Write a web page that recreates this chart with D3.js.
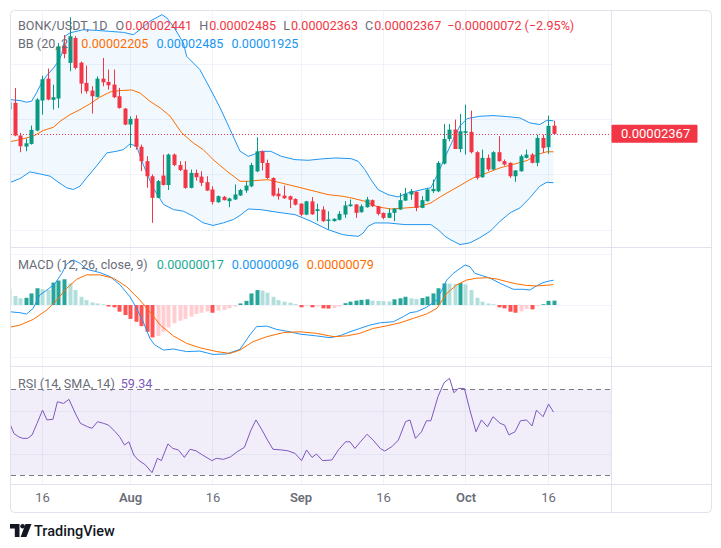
<!DOCTYPE html>
<html><head><meta charset="utf-8">
<script src="https://cdn.jsdelivr.net/npm/d3@7"></script>
<style>
html,body{margin:0;padding:0;background:#fff;}
svg{display:block;font-family:Roboto,"Noto Sans",sans-serif;}
</style></head><body>
<svg id="c" width="721" height="548"></svg>
<script>
// ---------- DATA (prices in units of 1e-8 USDT, day index 0 = Jul 10) ----------
const startDate = Date.UTC(2024, 6, 10);
const openP  = [2590,2647,2352,2252,2276,2397,2668,2866,2674,2686,3167,3008,3234,3011,2827,2758,2701,2866,2836,2812,2707,2595,2451,2505,2250,2120,1984,1789,1990,1905,2180,2085,2044,1879,2014,1981,1930,1864,1749,1798,1759,1774,1810,1855,1893,2028,2209,2104,1968,1827,1809,1803,1778,1736,1637,1757,1670,1683,1580,1578,1590,1638,1713,1729,1659,1704,1768,1713,1653,1608,1653,1683,1764,1819,1843,1698,1759,1849,1848,2098,2321,2406,2230,2376,2385,2201,1975,2150,2045,2201,2120,2105,1984,2029,2150,2180,2105,2330,2246,2441];
const highP  = [2660,2782,2376,2324,2442,2690,2893,2957,2812,3188,3260,3420,3250,3020,2984,2797,2887,3053,2948,2948,2782,2601,2526,2535,2270,2165,2000,1950,2180,2189,2189,2120,2120,2044,2044,2029,1984,1894,1810,1805,1790,1909,1870,1939,2105,2336,2216,2134,1975,1878,1899,1810,1785,1740,1762,1796,1736,1713,1667,1605,1668,1759,1774,1732,1729,1797,1774,1716,1656,1692,1695,1833,1879,1869,1846,1804,1879,1954,2120,2456,2456,2496,2547,2631,2577,2210,2225,2180,2210,2346,2135,2110,2040,2180,2225,2192,2360,2360,2532,2485];
const lowP   = [2580,2346,2201,2210,2270,2390,2541,2670,2586,2601,3050,2933,2950,2731,2731,2550,2695,2797,2767,2690,2595,2445,2240,2225,2030,1880,1563,1785,1900,1860,2075,2030,1870,1875,1945,1894,1850,1728,1745,1765,1704,1770,1805,1834,1885,2020,2037,1960,1800,1772,1780,1697,1720,1622,1632,1635,1577,1572,1503,1575,1585,1608,1710,1608,1655,1700,1705,1630,1595,1605,1578,1680,1760,1771,1668,1695,1755,1833,1840,2090,2300,2280,2200,2180,2190,1954,1970,2030,2040,2115,2080,1969,1933,2025,2145,2100,2075,2195,2186,2363];
const closeP = [2650,2352,2255,2282,2403,2677,2860,2677,2698,3158,3089,3249,2963,2821,2752,2707,2866,2833,2806,2698,2601,2451,2502,2250,2120,1984,1789,1940,1905,2180,2085,2040,1879,2014,1975,1924,1855,1752,1804,1768,1783,1819,1860,1900,2085,2209,2104,1968,1809,1803,1785,1772,1727,1637,1757,1640,1686,1578,1593,1599,1644,1720,1729,1653,1713,1774,1713,1644,1608,1653,1692,1768,1825,1849,1698,1768,1864,1870,2105,2321,2405,2230,2391,2391,2201,1969,2150,2045,2201,2120,2090,1984,2036,2165,2180,2105,2330,2240,2439,2367];

// Bollinger Bands (20, 2): [day, value]
const bbUpper = [[0,2677],[2,2668],[3.2,2653],[4.1,2662],[5,2737],[5.9,2827],[6.9,2896],[8.1,2963],[9,3023],[9.6,3090],[10.2,3250],[11.1,3280],[13.5,3308],[15.9,3302],[18.4,3293],[20.8,3284],[22.6,3263],[23.8,3308],[25.6,3384],[27.8,3444],[28.7,3414],[29.9,3338],[31.7,3188],[32.3,3068],[34.7,2948],[36.5,2782],[38.4,2601],[40.2,2406],[42,2210],[43.5,2164],[44.4,2179],[45.8,2209],[47.6,2209],[49.5,2164],[52,2134],[54.4,2128],[56.7,2140],[59.3,2149],[62.2,2143],[63.5,2119],[64.7,2044],[65.8,1954],[67.1,1863],[68.9,1818],[70.7,1797],[72.5,1833],[73.8,1848],[75.6,1869],[76.7,1880],[78,2010],[79.5,2180],[80.7,2310],[82,2440],[83.3,2505],[85.6,2526],[88,2532],[90.5,2523],[92.9,2511],[94.7,2466],[96.5,2451],[97.8,2490],[99,2485]];
const bbBasis = [[0,2294],[2,2315],[4.4,2346],[6.2,2397],[8.1,2427],[9.3,2481],[11.1,2541],[12.9,2586],[14.7,2638],[16.5,2698],[18.4,2746],[20.2,2758],[22.3,2764],[23.8,2737],[25.6,2662],[27.5,2601],[29.3,2526],[31.4,2376],[33.5,2285],[35.3,2225],[37.1,2135],[39.6,2030],[42,1939],[43.5,1938],[45.3,1947],[47.1,1953],[49.5,1923],[52,1893],[54.9,1857],[58,1818],[60.7,1803],[62.2,1788],[64.7,1758],[67.1,1706],[69.5,1688],[72,1697],[74.4,1706],[76.7,1743],[78.5,1800],[80.7,1863],[82,1900],[84.4,1969],[86.9,2014],[89.3,2060],[91.6,2090],[94.2,2126],[96,2180],[97.8,2205],[99,2205]];
const bbLower = [[0,1924],[2,1963],[3.8,2023],[5.6,2005],[7.5,1984],[8.7,1939],[10.5,1879],[11.7,1864],[12.9,1894],[14.1,1969],[15.9,2075],[17.8,2195],[19.6,2210],[20.8,2225],[22,2276],[23.2,2255],[24.4,2090],[26.2,1879],[28.1,1729],[29.9,1683],[31.7,1668],[33.5,1623],[35.3,1563],[37.1,1539],[39,1563],[40.8,1593],[42,1630],[43.5,1688],[45.8,1682],[48.9,1658],[52,1637],[54.9,1577],[58,1501],[60.7,1456],[61.6,1450],[63.5,1441],[64.4,1471],[65.3,1532],[66.5,1562],[68.9,1562],[72,1547],[74.9,1547],[76.7,1547],[78,1502],[79.3,1441],[80.2,1412],[82,1367],[83.8,1382],[85.6,1428],[87.5,1488],[89.3,1578],[91.1,1653],[92.9,1698],[94.7,1789],[96.5,1894],[97.8,1930],[99,1925]];

// MACD (12, 26, close, 9), units of 1e-8
const macdHist = [61,35,26,28,45,65,61,58,87,95,100,84,58,32,19,10,6,3,-6,-9,-26,-39,-54,-65,-82,-104,-126,-120,-104,-87,-71,-61,-54,-45,-35,-30,-25,-30,-22,-19,-13,-6,6,16,45,58,56,48,32,19,13,9,4,-9,-4,-9,-6,-13,-14,-12,-6,7,13,17,20,22,17,16,15,14,22,26,32,26,23,27,33,45,65,84,83,82,85,80,58,28,13,6,3,-9,-13,-26,-30,-25,-15,-17,-4,3,16,17];
const macdLine = [[0,-26],[2,-30],[3.2,-35],[4.4,-13],[5.6,39],[6.9,58],[8.4,84],[9.6,123],[10.5,159],[11.7,175],[12.9,162],[14.1,139],[16.5,126],[18.4,110],[20.2,78],[22,32],[23.2,-13],[24.4,-65],[25.6,-129],[26.5,-155],[28.1,-175],[29.9,-171],[32.3,-181],[34.7,-179],[37.1,-192],[39.6,-190],[42,-172],[43.8,-116],[45,-84],[46.9,-82],[48.7,-95],[51.1,-104],[52.9,-113],[55.9,-120],[58.4,-127],[60.2,-119],[62,-104],[63.8,-91],[65.6,-78],[67.5,-69],[69.9,-65],[71.7,-45],[72.9,-30],[74.1,-26],[75.9,-9],[77.8,19],[79.6,97],[80.8,123],[82,142],[82.9,155],[83.8,149],[84.7,123],[86.2,113],[87.5,104],[89.3,84],[91.7,61],[93.5,61],[94.7,58],[95.9,74],[97.1,87],[98.4,94],[99,96]];
const signalLine = [[0,-87],[2,-78],[4.4,-56],[6.9,-19],[8.7,19],[10.5,65],[12.3,100],[14.1,117],[16.5,117],[19,104],[21.4,71],[23.8,19],[25.6,-26],[27.5,-78],[29.9,-120],[32.3,-149],[34.7,-166],[37.8,-181],[40.2,-188],[42,-175],[44.4,-142],[46.9,-123],[49.9,-107],[52.9,-104],[55.9,-110],[59,-123],[61.4,-120],[63.8,-110],[66.2,-91],[68.7,-81],[71.1,-69],[73.5,-52],[75.9,-35],[77.8,-13],[79.6,45],[81.4,78],[83.2,97],[85,104],[86.9,106],[88.7,101],[90.5,91],[92.3,82],[94.1,76],[95.9,74],[97.8,77],[99,79]];

// RSI (14)
const rsiLine = [[0,54.9],[0.9,49.4],[1.7,47.9],[2.5,47.1],[3.4,47.1],[4.2,48.7],[5.1,54.1],[6.1,60.3],[6.9,55.7],[8,56],[8.8,64.2],[9.9,63.4],[10.9,65.3],[12.2,58],[13,54.1],[14.3,52.5],[15.1,51.8],[16.1,54.9],[17.2,54.1],[18.1,53.3],[19.3,50.2],[20.1,47.9],[21,44],[21.8,45.5],[22.7,39.3],[23.5,37],[24.8,34.7],[26,31.1],[27,37.8],[27.7,36.7],[28.9,44.5],[29.8,42.4],[30.8,41.7],[31.9,38.2],[32.9,42],[34,41.3],[35.2,39.3],[36.9,36.7],[37.7,37.8],[39,37.3],[40.3,38.5],[41.5,40.9],[42.8,42.9],[44,51],[44.9,55.7],[46,51],[47,46.3],[48,42],[49.5,41.7],[50.7,41.3],[52,40.1],[53.2,36.7],[54.1,41.7],[55.1,38.2],[55.9,39.8],[57,36.7],[58.7,37],[59.9,41.7],[61.2,45.5],[62,45.5],[62.9,42.4],[63.9,45.5],[65.1,49],[66.2,46.3],[67.5,42.4],[68.3,41.2],[69.6,43.2],[70.8,46.3],[72.1,54.9],[72.9,55.7],[73.9,47.1],[75,50.2],[75.9,55.3],[76.7,55.3],[78,66.6],[79.1,73.1],[80.1,75.1],[80.9,68.4],[81.7,70.4],[82.8,70.4],[83.8,60.3],[84.9,50.2],[85.9,55.7],[87,52.5],[88,57.2],[89.3,54.1],[90.1,53.3],[90.9,48.7],[92,50.2],[93,55.3],[94.1,55.7],[95.1,52.9],[95.9,60.3],[97.1,57.2],[98.1,63.1],[99,59.34]];

// axis ticks
const priceTicks = [1500, 2000, 2500, 3000];
const macdTicks = [-200, 0, 200];
const rsiTicks = [40, 60, 80];
const timeTicks = [6, 22, 37, 53, 68, 83, 98];
const timeLabels = ["16", "Aug", "16", "Sep", "16", "Oct", "16"];

// ---------- LAYOUT ----------
const W = 721, H = 548;
const LEFT = 10, PR = 611, RIGHT = 711;
const P1 = [10, 247], P2 = [248, 366], P3 = [367, 484], TA = [484, 513];
const UP = "#089981", DN = "#f23645", BLUE = "#2196f3", ORANGE = "#ff6d00", GRAY = "#6a6d78", GRID = "#f0f3fa", BORDER = "#e0e3eb";

const dt = d => new Date(startDate + d * 864e5);
const x = d3.scaleUtc().domain([dt(0), dt(100)]).range([9, 559]);
const yP = d3.scaleLinear().domain([1500, 3000]).range([229.8, 63.8]);
const yM = d3.scaleLinear().domain([-200, 200]).range([356.5, 253.5]);
const yR = d3.scaleLinear().domain([30, 70]).range([475, 389.3]);

const fmt = v => (v < 0 ? "\u2212" : "") + "0." + String(Math.abs(v)).padStart(8, "0");

const svg = d3.select("#c");
svg.append("rect").attr("width", W).attr("height", H).attr("fill", "#fff");
svg.append("rect").attr("x", 10.5).attr("y", 10.5).attr("width", 701).attr("height", 502)
  .attr("rx", 4).attr("fill", "#fff").attr("stroke", BORDER);

const defs = svg.append("defs");
function clip(id, x0, y0, w, h) {
  defs.append("clipPath").attr("id", id).append("rect").attr("x", x0).attr("y", y0).attr("width", w).attr("height", h);
  return "url(#" + id + ")";
}
const c1 = clip("c1", LEFT + 1, P1[0] + 1, PR - LEFT - 1, P1[1] - P1[0] - 1);
const c2 = clip("c2", LEFT + 1, P2[0], PR - LEFT - 1, P2[1] - P2[0]);
const c3 = clip("c3", LEFT + 1, P3[0], PR - LEFT - 1, P3[1] - P3[0]);
const a1 = clip("a1", PR + 1, P1[0] + 1, RIGHT - PR - 1, P1[1] - P1[0] - 1);
const a2 = clip("a2", PR + 1, P2[0], RIGHT - PR - 1, P2[1] - P2[0]);
const a3 = clip("a3", PR + 1, P3[0], RIGHT - PR - 1, P3[1] - P3[0]);

// grid
const grid = svg.append("g").attr("stroke", GRID).attr("stroke-width", 1);
timeTicks.forEach(d => {
  const xx = Math.round(x(dt(d))) + 0.5;
  grid.append("line").attr("x1", xx).attr("x2", xx).attr("y1", 11).attr("y2", P3[1]);
});
priceTicks.forEach(v => grid.append("line").attr("x1", LEFT + 1).attr("x2", PR).attr("y1", Math.round(yP(v)) + 0.5).attr("y2", Math.round(yP(v)) + 0.5));
macdTicks.forEach(v => grid.append("line").attr("x1", LEFT + 1).attr("x2", PR).attr("y1", Math.round(yM(v)) + 0.5).attr("y2", Math.round(yM(v)) + 0.5));
[40, 60].forEach(v => grid.append("line").attr("x1", LEFT + 1).attr("x2", PR).attr("y1", Math.round(yR(v)) + 0.5).attr("y2", Math.round(yR(v)) + 0.5));

// ---------- PRICE PANE ----------
const g1 = svg.append("g").attr("clip-path", c1);
const line = (ys) => d3.line().x(p => x(dt(p[0]))).y(p => ys(p[1]));
// band fill between the upper and lower band vertices
const bandArea = d3.area().x(p => x(dt(p[0]))).y0(p => yP(p[2])).y1(p => yP(p[1]));
const bandPts = d3.range(0, 99.01, 0.25).map(d => {
  const at = arr => { for (let i = 1; i < arr.length; i++) if (d <= arr[i][0]) { const a = arr[i-1], b = arr[i]; const t = (d - a[0]) / (b[0] - a[0]); return a[1] + t * (b[1] - a[1]); } return arr[arr.length-1][1]; };
  return [d, at(bbUpper), at(bbLower)];
});
g1.append("path").attr("d", bandArea(bandPts)).attr("fill", "rgba(33,150,243,0.06)");
g1.append("path").attr("d", line(yP)(bbUpper)).attr("fill", "none").attr("stroke", BLUE).attr("stroke-width", 1);
g1.append("path").attr("d", line(yP)(bbLower)).attr("fill", "none").attr("stroke", BLUE).attr("stroke-width", 1);
g1.append("path").attr("d", line(yP)(bbBasis)).attr("fill", "none").attr("stroke", ORANGE).attr("stroke-width", 1);

// candles
const candles = g1.selectAll("g.cd").data(d3.range(openP.length)).join("g");
candles.append("line")
  .attr("x1", d => Math.round(x(dt(d))) + 0.5).attr("x2", d => Math.round(x(dt(d))) + 0.5)
  .attr("y1", d => yP(highP[d])).attr("y2", d => yP(lowP[d]))
  .attr("stroke", d => closeP[d] >= openP[d] ? UP : DN).attr("stroke-width", 1);
candles.append("rect")
  .attr("x", d => Math.round(x(dt(d))) - 1.5).attr("width", 4)
  .attr("y", d => yP(Math.max(openP[d], closeP[d])))
  .attr("height", d => Math.max(1, Math.abs(yP(openP[d]) - yP(closeP[d]))))
  .attr("fill", d => closeP[d] >= openP[d] ? UP : DN);

// last price line
const lastC = closeP[closeP.length - 1];
svg.append("line").attr("x1", LEFT + 1).attr("x2", PR).attr("y1", Math.round(yP(lastC)) + 0.5).attr("y2", Math.round(yP(lastC)) + 0.5)
  .attr("stroke", DN).attr("stroke-width", 1).attr("stroke-dasharray", "1,2");

// ---------- MACD PANE ----------
const g2 = svg.append("g").attr("clip-path", c2);
g2.selectAll("rect").data(macdHist).join("rect")
  .attr("x", (v, i) => Math.round(x(dt(i))) - 1.5).attr("width", 4)
  .attr("y", v => Math.min(yM(v), yM(0))).attr("height", v => Math.abs(yM(v) - yM(0)))
  .attr("fill", (v, i) => {
    const prev = i > 0 ? macdHist[i - 1] : v + 1;
    if (v >= 0) return v >= prev ? "#26a69a" : "#b2dfdb";
    return v <= prev ? "#ff5252" : "#ffcdd2";
  });
g2.append("path").attr("d", line(yM)(macdLine)).attr("fill", "none").attr("stroke", BLUE).attr("stroke-width", 1);
g2.append("path").attr("d", line(yM)(signalLine)).attr("fill", "none").attr("stroke", ORANGE).attr("stroke-width", 1);

// ---------- RSI PANE ----------
const g3 = svg.append("g").attr("clip-path", c3);
g3.append("rect").attr("x", LEFT + 1).attr("width", PR - LEFT - 1).attr("y", yR(70)).attr("height", yR(30) - yR(70)).attr("fill", "rgba(126,87,194,0.1)");
[70, 30].forEach(v => g3.append("line").attr("x1", LEFT + 1).attr("x2", PR).attr("y1", Math.round(yR(v)) + 0.5).attr("y2", Math.round(yR(v)) + 0.5)
  .attr("stroke", "#787b86").attr("stroke-dasharray", "5,4"));
g3.append("path").attr("d", line(yR)(rsiLine)).attr("fill", "none").attr("stroke", "#7e57c2").attr("stroke-width", 1);

// ---------- SEPARATORS ----------
const sep = svg.append("g").attr("stroke", BORDER).attr("stroke-width", 1);
[P1[1] + 0.5, P2[1] + 0.5, P3[1] + 0.5].forEach(yy => sep.append("line").attr("x1", LEFT + 1).attr("x2", RIGHT).attr("y1", yy).attr("y2", yy));
sep.append("line").attr("x1", PR + 0.5).attr("x2", PR + 0.5).attr("y1", 11).attr("y2", TA[1]);

// ---------- AXES ----------
function yAxis(scale, ticks, f, clipUrl) {
  const g = svg.append("g").attr("clip-path", clipUrl).attr("transform", `translate(${PR},0)`)
    .call(d3.axisRight(scale).tickValues(ticks).tickSize(0).tickPadding(10).tickFormat(f));
  g.select(".domain").remove();
  g.selectAll("text").attr("fill", GRAY).style("font-size", "13px").style("font-family", "Roboto, sans-serif");
}
yAxis(yP, priceTicks, fmt, a1);
yAxis(yM, macdTicks, fmt, a2);
yAxis(yR, rsiTicks, v => v.toFixed(2), a3);

const tAx = svg.append("g").attr("transform", `translate(0,${TA[0]})`)
  .call(d3.axisBottom(x).tickValues(timeTicks.map(dt)).tickSize(0).tickPadding(9).tickFormat((d, i) => timeLabels[i]));
tAx.select(".domain").remove();
tAx.selectAll("text").attr("fill", GRAY).style("font-size", "13px").style("font-family", "Roboto, sans-serif")
  .style("font-weight", (d, i) => /^[A-Z]/.test(timeLabels[i]) ? "600" : "400");

// current price label
const yl = yP(lastC);
svg.append("rect").attr("x", PR + 0.5).attr("y", yl - 9).attr("width", 86).attr("height", 18).attr("rx", 1).attr("fill", DN);
svg.append("text").attr("x", 621).attr("y", yl).attr("dominant-baseline", "central").attr("fill", "#fff")
  .style("font-size", "13px").text(fmt(lastC));

// ---------- LEGENDS (flowing tspans) ----------
function legend(yy, parts) {
  const t = svg.append("text").attr("x", 18).attr("y", yy).attr("dominant-baseline", "central").style("font-size", "12.6px");
  parts.forEach(([dx, s, c]) => t.append("tspan").attr("dx", dx).attr("fill", c).text(s));
}
const n = closeP.length - 1;
const chg = closeP[n] - closeP[n - 1];
const pct = (chg / closeP[n - 1] * 100).toFixed(2).replace("-", "\u2212");
legend(24.5, [[0, "BONK/USDT, 1D", GRAY], [8, "O", GRAY], [1, fmt(openP[n]), DN], [7, "H", GRAY], [1, fmt(highP[n]), DN],
  [7, "L", GRAY], [1, fmt(lowP[n]), DN], [7, "C", GRAY], [1, fmt(closeP[n]), DN], [6, fmt(chg) + " (" + pct + "%)", DN]]);
legend(43, [[0, "BB (20, 2)", GRAY], [9, fmt(bbBasis[bbBasis.length - 1][1]), ORANGE], [8, fmt(bbUpper[bbUpper.length - 1][1]), BLUE], [8, fmt(bbLower[bbLower.length - 1][1]), BLUE]]);
legend(264, [[0, "MACD (12, 26, close, 9)", GRAY], [9, fmt(macdHist[macdHist.length - 1]), "#22ab94"], [8, fmt(macdLine[macdLine.length - 1][1]), BLUE], [8, fmt(signalLine[signalLine.length - 1][1]), ORANGE]]);
legend(382.5, [[0, "RSI (14, SMA, 14)", GRAY], [6, rsiLine[rsiLine.length - 1][1].toFixed(2), "#7e57c2"]]);

// ---------- LOGO ----------
const logo = svg.append("g").attr("fill", "#131722");
logo.append("path").attr("d", "M10,524 H19.5 V537 H14.8 V528.6 H10 Z");
logo.append("circle").attr("cx", 22.6).attr("cy", 526.3).attr("r", 2.3);
logo.append("path").attr("d", "M25.5,524 H31.5 L26.4,537 H20.6 Z");
svg.append("text").attr("x", 34).attr("y", 536).attr("fill", "#131722").style("font-size", "14.5px").style("font-weight", "500").text("TradingView");
</script></body></html>
